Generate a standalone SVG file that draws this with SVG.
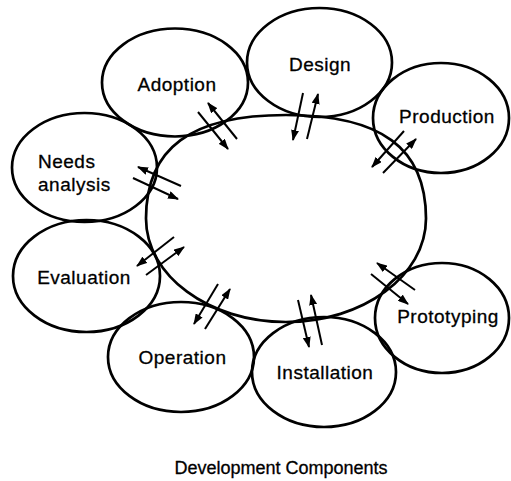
<svg xmlns="http://www.w3.org/2000/svg" width="511" height="481" viewBox="0 0 511 481">
<style>
.node{fill:none;stroke:#000;stroke-width:2.7}
.lbl{font-family:"Liberation Sans",Arial,sans-serif;font-size:19px;letter-spacing:0.5px;fill:#000;stroke:#000;stroke-width:0.3;text-anchor:middle}
.arr{stroke:#000;stroke-width:2;fill:none;marker-end:url(#ah)}
.title{font-family:"Liberation Sans",Arial,sans-serif;font-size:18px;fill:#000;stroke:#000;stroke-width:0.3;text-anchor:middle}
</style>
<defs>
<marker id="ah" viewBox="0 0 11 8" refX="10" refY="4" markerWidth="11" markerHeight="8" markerUnits="userSpaceOnUse" orient="auto">
<path d="M0,0 L11,4 L0,8 z" fill="#000"/>
</marker>
</defs>
<rect width="511" height="481" fill="#fff"/>
<g id="center">
<path class="node" d="M146,218.5 C146,148 190.8,115 286,115 C381.2,115 426,148 426,218.5 C426,275.7 363.3,322 286,322 C208.7,322 146,275.7 146,218.5 Z"/>
</g>
<g id="adoption">
<ellipse class="node" cx="175" cy="82.5" rx="73" ry="54"/>
<text class="lbl" x="177" y="91">Adoption</text>
</g>
<g id="design">
<ellipse class="node" cx="319.5" cy="62.5" rx="72.5" ry="54.5"/>
<text class="lbl" x="320" y="71">Design</text>
</g>
<g id="production">
<ellipse class="node" cx="441" cy="118" rx="68" ry="55"/>
<text class="lbl" x="447" y="123">Production</text>
</g>
<g id="prototyping">
<ellipse class="node" cx="442" cy="318" rx="67" ry="55"/>
<text class="lbl" x="448" y="323">Prototyping</text>
</g>
<g id="installation">
<ellipse class="node" cx="324" cy="372" rx="72" ry="55"/>
<text class="lbl" x="325" y="379">Installation</text>
</g>
<g id="operation">
<ellipse class="node" cx="181" cy="357" rx="73" ry="55"/>
<text class="lbl" x="182.5" y="364">Operation</text>
</g>
<g id="evaluation">
<ellipse class="node" cx="86.5" cy="276" rx="73.5" ry="56"/>
<text class="lbl" x="84" y="284">Evaluation</text>
</g>
<g id="needs-analysis">
<ellipse class="node" cx="84.5" cy="167.5" rx="72.5" ry="54.5"/>
<text class="lbl" x="38" y="168" style="text-anchor:start">Needs</text>
<text class="lbl" x="38" y="191" style="text-anchor:start">analysis</text>
</g>
<g id="connectors">
<line class="arr" x1="198" y1="112" x2="228" y2="149"/>
<line class="arr" x1="237" y1="139" x2="208" y2="103"/>
<line class="arr" x1="303" y1="93" x2="293" y2="140"/>
<line class="arr" x1="307" y1="139" x2="318" y2="94"/>
<line class="arr" x1="404" y1="131" x2="372" y2="167"/>
<line class="arr" x1="383" y1="173" x2="416" y2="139"/>
<line class="arr" x1="181" y1="186" x2="138" y2="167"/>
<line class="arr" x1="133" y1="178" x2="178" y2="199"/>
<line class="arr" x1="174" y1="237" x2="137" y2="266"/>
<line class="arr" x1="146" y1="275" x2="184" y2="247"/>
<line class="arr" x1="218" y1="284" x2="194" y2="324"/>
<line class="arr" x1="205" y1="329" x2="230" y2="289"/>
<line class="arr" x1="298" y1="300" x2="309" y2="347"/>
<line class="arr" x1="322" y1="345" x2="311" y2="295"/>
<line class="arr" x1="415" y1="290" x2="377" y2="263"/>
<line class="arr" x1="371" y1="274" x2="408" y2="304"/>
</g>
<text class="title" x="281" y="474">Development Components</text>
</svg>
